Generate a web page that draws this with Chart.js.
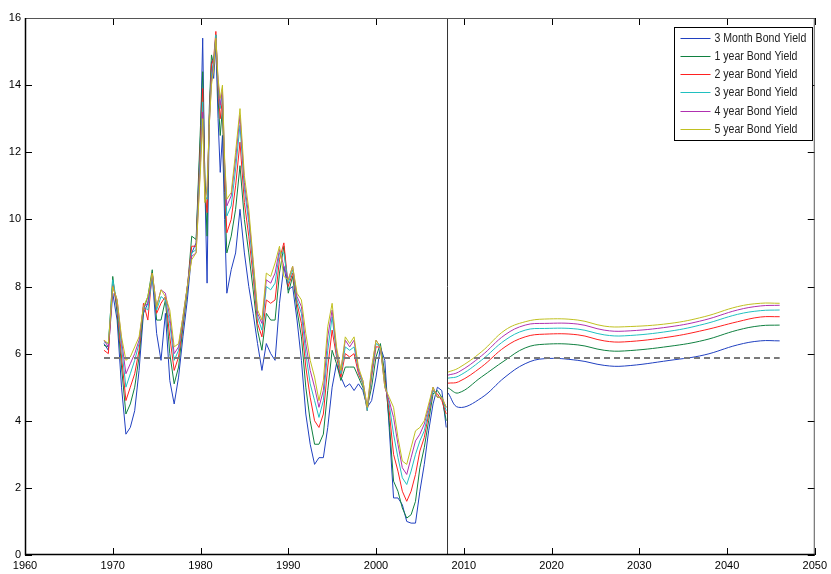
<!DOCTYPE html>
<html>
<head>
<meta charset="utf-8">
<script src="https://cdn.jsdelivr.net/npm/chart.js@4"></script>
<style>
  html, body { margin: 0; padding: 0; background: #fff; }
  #wrap { width: 831px; height: 574px; }
</style>
</head>
<body>
<div id="wrap"><canvas id="yieldChart" width="831" height="574"></canvas></div>
<script>
// series labels and colours (MATLAB default order)
const seriesNames = ['3 Month Bond Yield', '1 year Bond Yield', '2 year Bond Yield',
                     '3 year Bond Yield', '4 year Bond Yield', '5 year Bond Yield'];
const seriesColors = ['#2040C0', '#108040', '#FF2020', '#20C0C0', '#B030B0', '#C0C020'];

// historical observations
const histYears = [1969, 1969.5, 1970, 1970.5, 1971, 1971.5, 1972, 1972.5, 1973, 1973.5, 1974, 1974.5,
  1975, 1975.5, 1976, 1976.5, 1977, 1977.5, 1978, 1978.5, 1979, 1979.5, 1980,
  1980.25, 1980.5, 1980.75, 1981, 1981.25, 1981.5, 1981.75, 1982, 1982.25, 1982.5, 1982.75, 1983,
  1983.5, 1984, 1984.5, 1985, 1985.5, 1986, 1986.5, 1987, 1987.5, 1988, 1988.5, 1989, 1989.5,
  1990, 1990.5, 1991, 1991.5, 1992, 1992.5, 1993, 1993.5, 1994, 1994.5, 1995, 1995.5, 1996, 1996.5,
  1997, 1997.5, 1998, 1998.5, 1999, 1999.5, 2000, 2000.5, 2001, 2001.5, 2002, 2002.5, 2003, 2003.5,
  2004, 2004.5, 2005, 2005.5, 2006, 2006.5, 2007, 2007.5, 2008];

const hist3m = [6.3, 6.1, 7.8, 7.0, 5.0, 3.6, 3.8, 4.3, 5.5, 7.2, 7.5, 8.3, 6.6, 5.8, 7.2, 5.2, 4.5, 5.3, 6.5, 7.6, 9.0, 9.3, 12.5,
  15.4, 11.0, 8.1, 13.0, 14.7, 14.2, 15.2, 13.0, 11.4, 12.5, 10.0, 7.8,
  8.5, 9.0, 10.3, 9.0, 8.0, 7.2, 6.3, 5.5, 6.3, 6.0, 5.8, 7.5, 8.6, 7.9, 8.0, 7.0, 5.8, 4.2, 3.3, 2.7, 2.9, 2.9, 3.8, 5.0, 5.7,
  5.3, 5.0, 5.1, 4.9, 5.1, 4.9, 4.4, 4.6, 5.3, 6.2, 5.8, 3.8, 1.7, 1.7, 1.5, 1.0, 0.95, 0.95, 1.9, 2.7, 3.7, 4.5, 5.0, 4.9, 3.8];
const hist1y = [6.25, 6.2, 8.3, 7.2, 5.6, 4.2, 4.5, 5.0, 5.9, 7.3, 7.7, 8.5, 7.0, 7.0, 7.6, 6.0, 5.1, 5.6, 6.8, 7.9, 9.5, 9.4, 12.8,
  14.4, 11.2, 9.5, 13.3, 14.9, 14.6, 15.5, 13.6, 12.5, 13.3, 10.8, 9.0,
  9.5, 10.3, 11.6, 10.0, 9.0, 7.9, 6.7, 6.1, 7.2, 7.0, 7.0, 8.4, 9.2, 7.8, 8.3, 7.3, 6.5, 5.0, 4.0, 3.3, 3.3, 3.6, 4.9, 6.1, 5.7,
  5.2, 5.6, 5.6, 5.6, 5.3, 5.0, 4.4, 5.0, 5.9, 6.3, 5.4, 4.0, 2.2, 1.9, 1.4, 1.1, 1.2, 1.6, 2.6, 3.2, 4.0, 4.8, 4.9, 4.7, 4.0];
const hist2y = [6.1, 6.0, 8.1, 7.4, 5.9, 4.6, 5.0, 5.4, 6.1, 7.5, 7.0, 8.4, 7.2, 7.5, 7.7, 6.5, 5.5, 5.9, 6.9, 8.0, 9.2, 9.2, 12.3,
  13.9, 10.9, 10.2, 13.0, 14.6, 14.8, 15.6, 13.9, 13.0, 13.6, 11.2, 9.6,
  10.0, 11.0, 12.3, 10.5, 9.5, 8.3, 6.9, 6.5, 7.6, 7.5, 7.6, 8.8, 9.3, 8.0, 8.4, 7.5, 6.9, 5.6, 4.7, 4.0, 3.8, 4.2, 5.6, 6.7, 5.9,
  5.3, 6.0, 5.9, 6.0, 5.4, 5.1, 4.3, 5.3, 6.2, 6.2, 5.2, 4.3, 3.0, 2.5, 1.9, 1.6, 1.9, 2.4, 3.1, 3.5, 4.2, 4.9, 4.8, 4.6, 4.2];
const hist3y = [6.35, 6.3, 8.2, 7.5, 6.2, 5.0, 5.4, 5.8, 6.3, 7.4, 7.3, 8.3, 7.3, 7.7, 7.6, 6.9, 5.8, 6.1, 7.0, 8.0, 9.0, 9.1, 12.0,
  13.5, 10.7, 10.6, 12.9, 14.3, 14.7, 15.5, 14.0, 13.3, 13.8, 11.5, 10.1,
  10.4, 11.5, 12.8, 10.9, 9.9, 8.5, 7.1, 6.7, 8.0, 7.9, 8.1, 9.0, 9.0, 8.1, 8.5, 7.6, 7.2, 6.0, 5.1, 4.6, 4.1, 4.6, 6.1, 7.1, 6.0,
  5.4, 6.2, 6.1, 6.2, 5.5, 5.1, 4.3, 5.4, 6.3, 6.2, 5.1, 4.5, 3.6, 2.9, 2.3, 2.1, 2.5, 3.0, 3.4, 3.7, 4.3, 4.9, 4.7, 4.7, 4.3];
const hist4y = [6.4, 6.2, 8.0, 7.6, 6.4, 5.4, 5.7, 6.0, 6.4, 7.4, 7.5, 8.4, 7.4, 7.9, 7.8, 7.1, 6.0, 6.2, 7.1, 8.0, 8.9, 9.0, 11.7,
  13.2, 10.6, 10.9, 12.8, 14.1, 14.6, 15.4, 14.1, 13.4, 13.9, 11.7, 10.4,
  10.7, 11.8, 13.1, 11.1, 10.1, 8.7, 7.2, 6.9, 8.2, 8.1, 8.4, 9.1, 8.6, 8.2, 8.6, 7.7, 7.4, 6.3, 5.5, 5.0, 4.4, 4.9, 6.5, 7.3, 6.1,
  5.5, 6.4, 6.2, 6.4, 5.5, 5.2, 4.4, 5.5, 6.4, 6.2, 5.0, 4.6, 4.1, 3.3, 2.6, 2.4, 2.9, 3.4, 3.6, 3.9, 4.4, 5.0, 4.7, 4.7, 4.4];
const hist5y = [6.4, 6.3, 8.0, 7.6, 6.5, 5.8, 5.9, 6.2, 6.5, 7.4, 7.7, 8.4, 7.4, 7.9, 7.7, 7.3, 6.2, 6.3, 7.1, 8.0, 8.8, 9.0, 11.5,
  13.0, 10.5, 11.0, 12.8, 14.0, 14.5, 15.4, 14.2, 13.6, 14.0, 11.8, 10.6,
  10.8, 12.0, 13.3, 11.3, 10.3, 8.8, 7.3, 7.0, 8.4, 8.3, 8.7, 9.2, 8.3, 8.2, 8.6, 7.8, 7.6, 6.6, 5.8, 5.3, 4.6, 5.2, 6.8, 7.5, 6.2,
  5.5, 6.5, 6.3, 6.5, 5.6, 5.2, 4.4, 5.6, 6.4, 6.2, 5.0, 4.7, 4.4, 3.5, 2.8, 2.7, 3.2, 3.7, 3.8, 4.0, 4.5, 5.0, 4.7, 4.7, 4.4];

// forecast path
const fcYears = [2008.2, 2009.4, 2012, 2014.7, 2017, 2019.2, 2023, 2026, 2028.3, 2033.5, 2037.4, 2041.2, 2043.8, 2046];
const fc3m = [4.83, 4.4, 4.68, 5.3, 5.7, 5.85, 5.8, 5.65, 5.63, 5.8, 5.96, 6.26, 6.38, 6.38];
const fc1y = [4.98, 4.83, 5.3, 5.8, 6.17, 6.28, 6.26, 6.1, 6.08, 6.22, 6.4, 6.7, 6.83, 6.85];
const fc2y = [5.12, 5.16, 5.6, 6.2, 6.5, 6.58, 6.56, 6.38, 6.35, 6.5, 6.7, 6.95, 7.09, 7.1];
const fc3y = [5.27, 5.33, 5.8, 6.4, 6.7, 6.75, 6.73, 6.56, 6.53, 6.67, 6.88, 7.17, 7.28, 7.3];
const fc4y = [5.36, 5.45, 5.93, 6.56, 6.85, 6.9, 6.88, 6.7, 6.67, 6.8, 7.0, 7.3, 7.42, 7.44];
const fc5y = [5.45, 5.57, 6.05, 6.7, 6.95, 7.03, 7.0, 6.82, 6.8, 6.9, 7.1, 7.4, 7.5, 7.5];

// reference lines
const meanYield = 5.87;
const meanSpan = [1969, 2046];
const splitYear = 2008.15;

// axes
const xTicks = [1960, 1970, 1980, 1990, 2000, 2010, 2020, 2030, 2040, 2050];
const yTicks = [0, 2, 4, 6, 8, 10, 12, 14, 16];

const histSeries = [hist3m, hist1y, hist2y, hist3y, hist4y, hist5y];
const fcSeries = [fc3m, fc1y, fc2y, fc3y, fc4y, fc5y];

const FONT = "'Liberation Sans', Arial, sans-serif";

function pts(xs, ys) {
    return xs.map((x, i) => ({ x: x, y: ys[i] }));
}

const datasets = [];
seriesNames.forEach((name, i) => {
    datasets.push({
        label: name,
        data: pts(histYears, histSeries[i]),
        borderColor: seriesColors[i],
        borderWidth: 1,
        pointRadius: 0,
        tension: 0,
        order: 10 - i
    });
    datasets.push({
        label: name + ' forecast',
        data: pts(fcYears, fcSeries[i]),
        borderColor: seriesColors[i],
        borderWidth: 1,
        pointRadius: 0,
        tension: 0.4,
        order: 10 - i
    });
});
datasets.push({
    label: 'mean',
    data: [{ x: meanSpan[0], y: meanYield }, { x: meanSpan[1], y: meanYield }],
    borderColor: '#7a7a7a',
    borderWidth: 2,
    borderDash: [6, 4],
    pointRadius: 0,
    order: 0
});
datasets.push({
    label: 'split',
    data: [{ x: splitYear, y: 0 }, { x: splitYear, y: 16 }],
    borderColor: '#333',
    borderWidth: 1,
    pointRadius: 0,
    order: 0
});

// box, inward ticks and the legend inside the axes, like the MATLAB figure
const matlabFrame = {
    id: 'matlabFrame',
    afterDraw(chart) {
        const { ctx, chartArea: a, scales: { x, y } } = chart;
        ctx.save();
        ctx.strokeStyle = '#000';
        ctx.lineWidth = 1;
        ctx.beginPath();
        xTicks.forEach(v => {
            const px = Math.round(x.getPixelForValue(v)) + 0.5;
            ctx.moveTo(px, a.bottom); ctx.lineTo(px, a.bottom - 7);
            ctx.moveTo(px, a.top); ctx.lineTo(px, a.top + 7);
        });
        yTicks.forEach(v => {
            const py = Math.round(y.getPixelForValue(v)) + 0.5;
            ctx.moveTo(a.left, py); ctx.lineTo(a.left + 7, py);
            ctx.moveTo(a.right, py); ctx.lineTo(a.right - 7, py);
        });
        ctx.stroke();

        ctx.strokeStyle = '#555';
        ctx.strokeRect(a.left + 0.5, a.top + 0.5, a.width - 1, a.height - 1);
        ctx.strokeStyle = '#000';
        ctx.lineWidth = 1.5;
        ctx.beginPath();
        ctx.moveTo(a.left + 0.5, a.top);
        ctx.lineTo(a.left + 0.5, a.bottom - 0.5);
        ctx.lineTo(a.right, a.bottom - 0.5);
        ctx.stroke();

        // legend
        const bw = 138, bh = 113;
        const bx = Math.round(a.right - 3 - bw) + 0.5;
        const by = Math.round(a.top + 9) + 0.5;
        ctx.fillStyle = '#fff';
        ctx.fillRect(bx, by, bw, bh);
        ctx.lineWidth = 1;
        ctx.strokeStyle = '#000';
        ctx.strokeRect(bx, by, bw, bh);
        ctx.font = '12px ' + FONT;
        ctx.textBaseline = 'middle';
        seriesNames.forEach((name, i) => {
            const ly = Math.round(by + 10 + i * 18.3) + 0.5;
            ctx.strokeStyle = seriesColors[i];
            ctx.beginPath();
            ctx.moveTo(bx + 6, ly);
            ctx.lineTo(bx + 36, ly);
            ctx.stroke();
            ctx.save();
            ctx.translate(bx + 40, ly);
            ctx.scale(0.88, 1);
            ctx.fillStyle = '#222';
            ctx.fillText(name, 0, 0);
            ctx.restore();
        });
        ctx.restore();
    }
};

const ctx = document.getElementById('yieldChart').getContext('2d');
new Chart(ctx, {
    type: 'line',
    data: { datasets: datasets },
    options: {
        responsive: false,
        animation: false,
        layout: { autoPadding: false, padding: { top: 18, right: 13, left: 0, bottom: 0 } },
        plugins: {
            legend: { display: false },
            tooltip: { enabled: false }
        },
        scales: {
            x: {
                type: 'linear',
                min: 1960,
                max: 2050,
                afterBuildTicks: s => { s.ticks = xTicks.map(v => ({ value: v })); },
                afterFit: s => { s.height = 19; },
                grid: { display: false, drawTicks: false },
                border: { display: false },
                ticks: {
                    color: '#000', font: { family: FONT, size: 11 }, padding: 4, maxRotation: 0,
                    callback: v => String(v)
                }
            },
            y: {
                min: 0,
                max: 16,
                afterBuildTicks: s => { s.ticks = yTicks.map(v => ({ value: v })); },
                afterFit: s => { s.width = 25; },
                grid: { display: false, drawTicks: false },
                border: { display: false },
                ticks: { color: '#000', font: { family: FONT, size: 11 }, padding: 4 }
            }
        }
    },
    plugins: [matlabFrame]
});
</script>
</body>
</html>
